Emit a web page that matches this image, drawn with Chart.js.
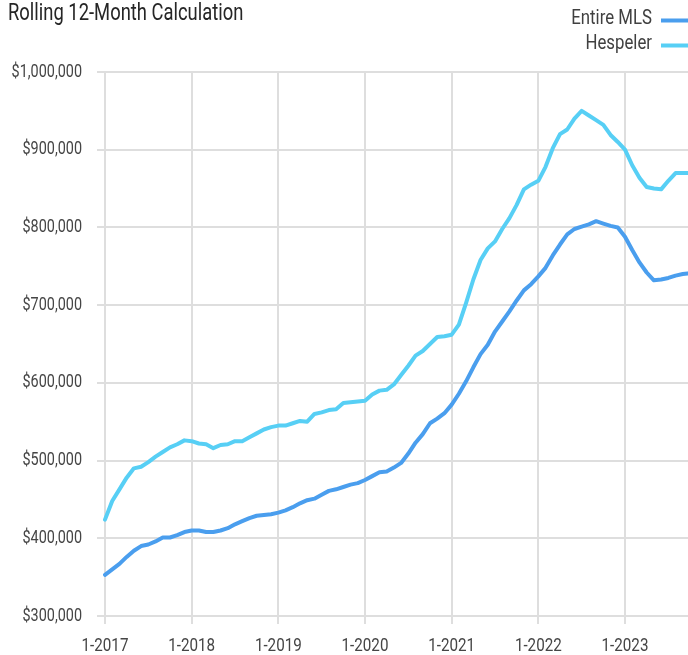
<!DOCTYPE html>
<html>
<head>
<meta charset="utf-8">
<script src="https://cdn.jsdelivr.net/npm/chart.js@4/dist/chart.umd.min.js"></script>
<style>
  html, body { margin: 0; padding: 0; background: #ffffff; overflow: hidden; }
  #wrap { width: 720px; height: 655px; }
</style>
</head>
<body>
<div id="wrap"><canvas id="chart" width="720" height="655"></canvas></div>
<script>
// Monthly categories, January 2017 through October 2023
const years = [2017, 2018, 2019, 2020, 2021, 2022, 2023];
const monthLabels = [];
years.forEach(y => { for (let m = 1; m <= 12; m++) monthLabels.push(m + '-' + y); });
monthLabels.length = 82;

// Rolling 12-month average price, Entire MLS
const entireMLS = [
  353000, 360000, 367000, 376000, 384000, 390000, 392000, 396000, 401000, 401000, 404000, 408000,
  410000, 410000, 408000, 408000, 410000, 413000, 418000, 422000, 426000, 429000, 430000, 431000,
  433000, 436000, 440000, 445000, 449000, 451000, 456000, 461000, 463000, 466000, 469000, 471000,
  475000, 480000, 485000, 486000, 491000, 497000, 509000, 523000, 534000, 548000, 554000, 561000,
  572000, 586000, 602000, 620000, 637000, 649000, 666000, 679000, 692000, 706000, 719000, 727000,
  737000, 748000, 764000, 778000, 791000, 798000, 801000, 804000, 808000, 805000, 802000, 800000,
  788000, 771000, 755000, 742000, 732000, 733000, 735000, 738000, 740000, 741000
];

// Rolling 12-month average price, Hespeler
const hespeler = [
  424000, 448000, 463000, 478000, 490000, 492000, 498000, 505000, 511000, 517000, 521000, 526000,
  525000, 522000, 521000, 516000, 520000, 521000, 525000, 525000, 530000, 535000, 540000, 543000,
  545000, 545000, 548000, 551000, 550000, 560000, 562000, 565000, 566000, 574000, 575000, 576000,
  577000, 585000, 590000, 591000, 598000, 610000, 622000, 635000, 641000, 650000, 659000, 660000,
  662000, 675000, 703000, 733000, 758000, 773000, 782000, 798000, 812000, 829000, 849000, 855000,
  860000, 878000, 902000, 920000, 926000, 940000, 950000, 944000, 938000, 932000, 919000, 910000,
  900000, 880000, 864000, 852000, 850000, 849000, 860000, 870000, 870000, 870000
];

// Value axis ticks
const yTicks = [300000, 400000, 500000, 600000, 700000, 800000, 900000, 1000000];

const titleText = 'Rolling 12-Month Calculation';
const seriesNames = ['Entire MLS', 'Hespeler'];
const seriesColors = ['#4a9eee', '#57cff5'];

const FONT = 'Roboto, "DejaVu Sans Condensed", sans-serif';
const NARROW = 0.8;           // horizontal squeeze for the condensed lettering
const GRID = '#dedede';
const TEXT = '#454545';

// Draws text squeezed horizontally around its anchor point
function narrowText(ctx, str, x, y, size, align, baseline, color) {
  ctx.save();
  ctx.font = size + 'px ' + FONT;
  ctx.fillStyle = color;
  ctx.textAlign = align;
  ctx.textBaseline = baseline;
  ctx.translate(x, y);
  ctx.scale(NARROW, 1);
  ctx.fillText(str, 0, 0);
  ctx.restore();
}

const fmtMoney = v => '$' + Number(v).toLocaleString('en-US');

// Axis labels placed from the scales' own ticks, plus title and legend
const labelPlugin = {
  id: 'labels',
  afterDraw(chart) {
    const ctx = chart.ctx;
    const xs = chart.scales.x, ys = chart.scales.y;

    ys.ticks.forEach(t => {
      narrowText(ctx, fmtMoney(t.value), chart.chartArea.left - 23,
                 ys.getPixelForValue(t.value), 18, 'right', 'middle', TEXT);
    });
    xs.ticks.forEach((t, i) => {
      if (i % 12 !== 0) return;
      narrowText(ctx, monthLabels[i], xs.getPixelForTick(i), 646, 19, 'center', 'middle', TEXT);
    });

    narrowText(ctx, titleText, 8, 19.5, 23, 'left', 'alphabetic', '#262626');

    const rows = [19, 44];
    seriesNames.forEach((name, i) => {
      narrowText(ctx, name, 652, rows[i], 21, 'right', 'middle', '#404040');
      ctx.save();
      ctx.strokeStyle = seriesColors[i];
      ctx.lineWidth = 4;
      ctx.beginPath();
      ctx.moveTo(661, rows[i] + 1.5);
      ctx.lineTo(710, rows[i] + 1.5);
      ctx.stroke();
      ctx.restore();
    });
  }
};

new Chart(document.getElementById('chart'), {
  type: 'line',
  data: {
    labels: monthLabels,
    datasets: [
      {
        label: seriesNames[0],
        data: entireMLS,
        borderColor: seriesColors[0],
        borderWidth: 4,
        pointRadius: 0,
        tension: 0,
        borderJoinStyle: 'round',
        borderCapStyle: 'round'
      },
      {
        label: seriesNames[1],
        data: hespeler,
        borderColor: seriesColors[1],
        borderWidth: 4,
        pointRadius: 0,
        tension: 0,
        borderJoinStyle: 'round',
        borderCapStyle: 'round'
      }
    ]
  },
  options: {
    responsive: false,
    animation: false,
    devicePixelRatio: 1,
    layout: { padding: { top: 72, right: 30, bottom: 0, left: 0 } },
    plugins: {
      legend: { display: false },
      tooltip: { enabled: false }
    },
    scales: {
      x: {
        type: 'category',
        offset: false,
        border: { display: false },
        grid: {
          color: c => (c.index % 12 === 0 ? GRID : 'rgba(0,0,0,0)'),
          lineWidth: 2,
          tickLength: 8
        },
        ticks: { autoSkip: false, display: false },
        afterFit: s => { s.height = 39; }
      },
      y: {
        min: yTicks[0],
        max: yTicks[yTicks.length - 1],
        border: { display: false },
        grid: { color: GRID, lineWidth: 2, tickLength: 8 },
        afterBuildTicks: s => { s.ticks = yTicks.map(v => ({ value: v })); },
        ticks: { display: false },
        afterFit: s => { s.width = 105; }
      }
    }
  },
  plugins: [labelPlugin]
});
</script>
</body>
</html>
